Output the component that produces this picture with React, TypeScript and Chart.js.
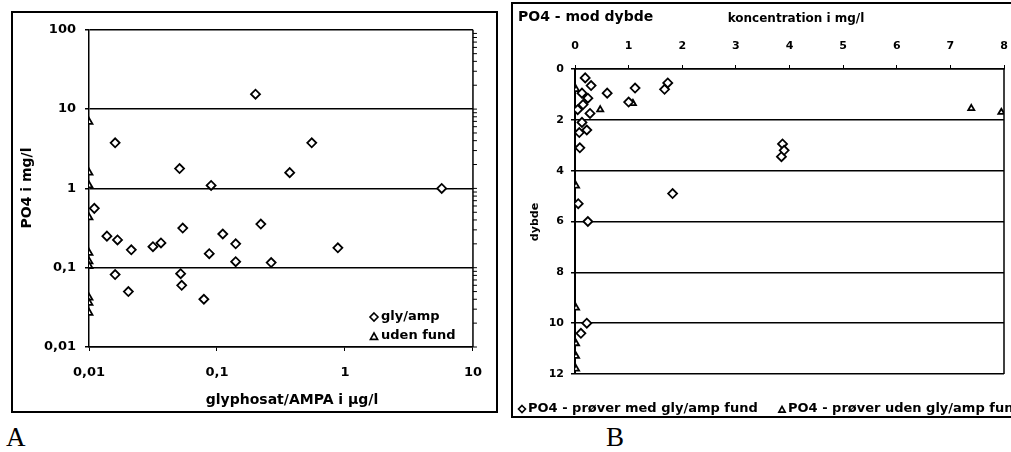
import React, { useEffect, useRef } from 'react';
import { Chart, registerables } from 'chart.js';

Chart.register(...registerables);

// ---------- Panel A data ----------
const glyAxisTicks = [0.01, 0.1, 1, 10];
const po4AxisTicks = [0.01, 0.1, 1, 10, 100];
const glyAmpGly = [0.2, 0.016, 0.051, 0.09, 0.37, 0.55, 5.7, 0.011, 0.22, 0.0138, 0.0167, 0.0214, 0.0316, 0.0365, 0.054, 0.111, 0.14, 0.087, 0.14, 0.265, 0.88, 0.016, 0.0203, 0.052, 0.053, 0.079];
const glyAmpPo4 = [15.4, 3.76, 1.78, 1.09, 1.58, 3.76, 1.0, 0.56, 0.355, 0.25, 0.224, 0.168, 0.184, 0.205, 0.316, 0.266, 0.2, 0.15, 0.119, 0.116, 0.178, 0.082, 0.05, 0.084, 0.06, 0.04];
const udenFundGly = [0.01, 0.01, 0.01, 0.01, 0.01, 0.01, 0.01, 0.01, 0.01, 0.01];
const udenFundPo4 = [6.9, 1.58, 1.09, 0.43, 0.154, 0.12, 0.105, 0.042, 0.036, 0.027];

// ---------- Panel B data ----------
const concTicks = [0, 1, 2, 3, 4, 5, 6, 7, 8];
const depthTicks = [0, 2, 4, 6, 8, 10, 12];
const medFundConc = [0.19, 0.3, 0.6, 1.12, 1.67, 1.73, 1.0, 0.13, 0.24, 0.15, 0.28, 0.13, 0.22, 0.09, 3.87, 3.85, 3.9, 1.82, 0.06, 0.24, 0.22, 0.11, 0.05, 0.08];
const medFundDepth = [0.35, 0.65, 0.95, 0.75, 0.8, 0.55, 1.3, 0.95, 1.15, 1.4, 1.75, 2.1, 2.4, 3.1, 2.95, 3.45, 3.2, 4.9, 5.3, 6.0, 10.0, 10.4, 1.6, 2.5];
const udenFundConc = [0.47, 1.08, 7.39, 7.95, 0.02, 0.02, 0.02, 0.02, 0.02, 0.02];
const udenFundDepth = [1.6, 1.35, 1.55, 1.7, 0.8, 4.6, 9.4, 10.8, 11.3, 11.8];

const SANS = '"DejaVu Sans", sans-serif';

function drawMarker(ctx: CanvasRenderingContext2D, kind: string, x: number, y: number, r: number) {
  ctx.beginPath();
  if (kind === 'diamond') {
    ctx.moveTo(x, y - r);
    ctx.lineTo(x + r, y);
    ctx.lineTo(x, y + r);
    ctx.lineTo(x - r, y);
  } else {
    ctx.moveTo(x, y - r);
    ctx.lineTo(x + r * 0.9, y + r * 0.6);
    ctx.lineTo(x - r * 0.9, y + r * 0.6);
  }
  ctx.closePath();
  ctx.fillStyle = '#fff';
  ctx.fill();
  ctx.lineWidth = 1.6;
  ctx.strokeStyle = '#000';
  ctx.stroke();
}

const overlayPlugin = {
  id: 'overlay',
  afterDraw(chart: any, _args: any, opts: any) {
    const ctx: CanvasRenderingContext2D = chart.ctx;
    const { right, top, bottom } = chart.chartArea;
    ctx.save();
    ctx.strokeStyle = '#000';
    ctx.lineWidth = 1.5;
    ctx.beginPath();
    ctx.moveTo(right, top);
    ctx.lineTo(right, bottom);
    ctx.stroke();
    if (opts.minorRight) {
      const ys = chart.scales.y;
      ctx.lineWidth = 1;
      for (let d = 0.01; d < 100; d *= 10) {
        for (let k = 1; k <= 9; k++) {
          const py = ys.getPixelForValue(d * k);
          ctx.beginPath();
          ctx.moveTo(right, py);
          ctx.lineTo(right + 4, py);
          ctx.stroke();
        }
      }
    }
    for (const t of opts.texts || []) {
      ctx.save();
      ctx.font = t.font;
      ctx.fillStyle = '#000';
      ctx.textAlign = t.align || 'center';
      ctx.textBaseline = 'middle';
      ctx.translate(t.x, t.y);
      if (t.rotate) ctx.rotate(t.rotate);
      ctx.fillText(t.text, 0, 0);
      ctx.restore();
    }
    for (const m of opts.markers || []) {
      drawMarker(ctx, m.kind, m.x, m.y, m.r);
    }
    ctx.restore();
  },
};

const fmtComma = (v: number) => String(v).replace('.', ',');

const pointBase = {
  borderColor: '#000',
  backgroundColor: '#fff',
  borderWidth: 1.8,
  showLine: false,
};

export default function App() {
  const aRef = useRef<HTMLCanvasElement>(null);
  const bRef = useRef<HTMLCanvasElement>(null);

  useEffect(() => {
    const chartA = new Chart(aRef.current!, {
      type: 'scatter',
      data: {
        datasets: [
          {
            ...pointBase,
            label: 'gly/amp',
            data: glyAmpGly.map((x, i) => ({ x, y: glyAmpPo4[i] })),
            pointStyle: 'rectRot',
            pointRadius: 4.5,
          },
          {
            ...pointBase,
            label: 'uden fund',
            data: udenFundGly.map((x, i) => ({ x, y: udenFundPo4[i] })),
            pointStyle: 'triangle',
            pointRadius: 4,
          },
        ],
      },
      options: {
        animation: false,
        responsive: false,
        events: [],
        layout: { padding: { left: 0, top: 14, right: 17, bottom: 0 } },
        plugins: {
          legend: { display: false },
          tooltip: { enabled: false },
          overlay: {
            minorRight: true,
            texts: [
              { text: 'glyphosat/AMPA i µg/l', x: 279, y: 387, font: `bold 14px ${SANS}` },
              { text: 'PO4 i mg/l', x: 14, y: 175, font: `bold 14px ${SANS}`, rotate: -Math.PI / 2 },
              { text: 'gly/amp', x: 368, y: 304, font: `bold 13px ${SANS}`, align: 'left' },
              { text: 'uden fund', x: 368, y: 323, font: `bold 13px ${SANS}`, align: 'left' },
            ],
            markers: [
              { kind: 'diamond', x: 361, y: 304, r: 4 },
              { kind: 'triangle', x: 361, y: 324, r: 4 },
            ],
          },
        } as any,
        scales: {
          x: {
            type: 'logarithmic',
            min: 0.01,
            max: 10,
            afterBuildTicks: (s: any) => {
              s.ticks = glyAxisTicks.map((v) => ({ value: v }));
            },
            afterFit: (s: any) => {
              s.height = 64;
            },
            grid: { drawOnChartArea: false, drawTicks: true, tickLength: 4, color: '#000', lineWidth: 1 },
            border: { color: '#000', width: 1.5 },
            ticks: {
              autoSkip: false,
              maxRotation: 0,
              padding: 14,
              color: '#000',
              font: { family: SANS, size: 13, weight: 'bold' },
              callback: (v: any) => fmtComma(Number(v)),
            },
          },
          y: {
            type: 'logarithmic',
            min: 0.01,
            max: 100,
            afterBuildTicks: (s: any) => {
              s.ticks = po4AxisTicks.map((v) => ({ value: v }));
            },
            afterFit: (s: any) => {
              s.width = 76;
            },
            grid: { color: '#000', lineWidth: 1.5, drawTicks: true, tickLength: 4 },
            border: { color: '#000', width: 1.5 },
            ticks: {
              autoSkip: false,
              padding: 9,
              color: '#000',
              font: { family: SANS, size: 13, weight: 'bold' },
              callback: (v: any) => fmtComma(Number(v)),
            },
          },
        },
      },
      plugins: [overlayPlugin as any],
    });

    const chartB = new Chart(bRef.current!, {
      type: 'scatter',
      data: {
        datasets: [
          {
            ...pointBase,
            label: 'PO4 - prøver med gly/amp fund',
            data: medFundConc.map((x, i) => ({ x, y: medFundDepth[i] })),
            pointStyle: 'rectRot',
            pointRadius: 4.5,
          },
          {
            ...pointBase,
            label: 'PO4 - prøver uden gly/amp fund',
            data: udenFundConc.map((x, i) => ({ x, y: udenFundDepth[i] })),
            pointStyle: 'triangle',
            pointRadius: 3.5,
          },
        ],
      },
      options: {
        animation: false,
        responsive: false,
        events: [],
        layout: { padding: { left: 0, top: 0, right: 45, bottom: 42 } },
        plugins: {
          legend: { display: false },
          tooltip: { enabled: false },
          overlay: {
            texts: [
              { text: 'PO4 - mod dybde', x: 5, y: 13, font: `bold 14px ${SANS}`, align: 'left' },
              { text: 'koncentration i mg/l', x: 283, y: 15, font: `bold 12px ${SANS}` },
              { text: 'dybde', x: 22, y: 218, font: `bold 11px ${SANS}`, rotate: -Math.PI / 2 },
              { text: 'PO4 - prøver med gly/amp fund', x: 15, y: 405, font: `bold 13px ${SANS}`, align: 'left' },
              { text: 'PO4 - prøver uden gly/amp fund', x: 275, y: 405, font: `bold 13px ${SANS}`, align: 'left' },
            ],
            markers: [
              { kind: 'diamond', x: 9, y: 405, r: 3.5 },
              { kind: 'triangle', x: 269, y: 406, r: 3.5 },
            ],
          },
        } as any,
        scales: {
          x: {
            type: 'linear',
            position: 'top',
            min: 0,
            max: 8,
            afterBuildTicks: (s: any) => {
              s.ticks = concTicks.map((v) => ({ value: v }));
            },
            afterFit: (s: any) => {
              s.height = 65;
            },
            grid: { drawOnChartArea: false, drawTicks: true, tickLength: 4, color: '#000' },
            border: { color: '#000', width: 1.5 },
            ticks: {
              autoSkip: false,
              maxRotation: 0,
              padding: 12,
              color: '#000',
              font: { family: SANS, size: 11, weight: 'bold' },
            },
          },
          y: {
            type: 'linear',
            reverse: true,
            min: 0,
            max: 12,
            afterBuildTicks: (s: any) => {
              s.ticks = depthTicks.map((v) => ({ value: v }));
            },
            afterFit: (s: any) => {
              s.width = 62;
            },
            grid: { color: '#000', lineWidth: 1.5, drawTicks: true, tickLength: 4 },
            border: { color: '#000', width: 2 },
            ticks: {
              autoSkip: false,
              padding: 7,
              color: '#000',
              font: { family: SANS, size: 11, weight: 'bold' },
            },
          },
        },
      },
      plugins: [overlayPlugin as any],
    });

    return () => {
      chartA.destroy();
      chartB.destroy();
    };
  }, []);

  const boxStyle: React.CSSProperties = {
    position: 'absolute',
    boxSizing: 'border-box',
    border: '2px solid #000',
    background: '#fff',
  };

  const letterStyle: React.CSSProperties = {
    position: 'absolute',
    top: 424,
    fontFamily: '"Liberation Serif", serif',
    fontSize: 27,
    lineHeight: '27px',
  };

  return (
    <div
      style={{
        position: 'fixed',
        left: 0,
        top: 0,
        width: 1011,
        height: 452,
        overflow: 'hidden',
        background: '#fff',
      }}
    >
      <div style={{ ...boxStyle, left: 11, top: 11, width: 487, height: 402 }}>
        <canvas ref={aRef} width={483} height={398} style={{ display: 'block', width: 483, height: 398 }} />
      </div>
      <div style={{ ...boxStyle, left: 511, top: 2, width: 540, height: 416 }}>
        <canvas ref={bRef} width={536} height={412} style={{ display: 'block', width: 536, height: 412 }} />
      </div>
      <div style={{ ...letterStyle, left: 6 }}>A</div>
      <div style={{ ...letterStyle, left: 606 }}>B</div>
    </div>
  );
}
